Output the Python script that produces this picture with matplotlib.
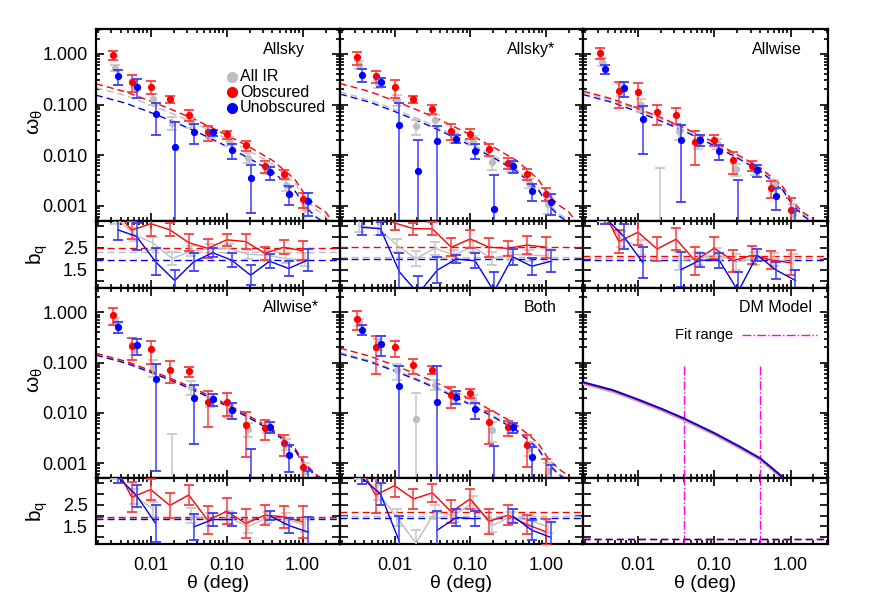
import numpy as np
import matplotlib
matplotlib.use('Agg')
import matplotlib.pyplot as plt
from matplotlib.ticker import LogLocator, NullFormatter, FixedLocator, FixedFormatter

plt.rcParams['font.family'] = ['Liberation Sans', 'DejaVu Sans']
plt.rcParams['mathtext.default'] = 'regular'

# ---------------- data ----------------
theta = [0.00316, 0.00562, 0.01, 0.0178, 0.0316, 0.0562, 0.1, 0.178, 0.316, 0.562, 1.0]
nan = np.nan

# DM model curve
dm_theta = [0.0019, 0.0047, 0.01, 0.021, 0.04, 0.1, 0.21, 0.4, 0.575, 0.79, 1.08, 1.5, 2.0, 3.1]
dm_omega = [0.041, 0.0284, 0.0186, 0.0119, 0.0078, 0.0040, 0.0022, 0.00126, 0.0008, 0.00053,
            0.00026, 0.00016, 0.00012, 0.00005]
dm_scale_gray, dm_scale_red, dm_scale_blue = 0.93, 0.97, 1.0
dm_bias = [0.92, 0.92, 0.92]           # gray, red, blue
fit_range = [0.04, 0.4]

# --- Allsky ---
allsky_om_red = [0.94, 0.284, 0.226, 0.127, 0.0616, 0.0284, 0.0256, 0.0155, 0.0060, 0.0042, 0.00134]
allsky_er_red = [0.18, 0.107, 0.065, 0.022, 0.015, 0.0095, 0.005, 0.0036, 0.0015, 0.0008, 0.00045]
allsky_om_blue = [0.362, 0.226, 0.066, 0.0144, 0.0289, 0.028, 0.0124, 0.00352, 0.0046, 0.00172, 0.00122]
allsky_er_blue = [0.117, 0.09, 0.041, 0.03, 0.012, 0.004, 0.004, 0.0028, 0.0013, 0.0007, 0.0006]
allsky_om_gray = [0.53, 0.24, 0.129, 0.0436, 0.045, 0.027, 0.019, 0.0089, 0.0052, 0.0026, 0.0009]
allsky_er_gray = [0.08, 0.06, 0.03, 0.012, 0.01, 0.005, 0.004, 0.002, 0.001, 0.0006, 0.0004]
allsky_bq_red = [4.3, 3.3, 3.6, 3.32, 2.73, 2.47, 2.86, 2.78, 2.24, 2.52, 2.36]
allsky_be_red = [0.4, 0.4, 0.56, 0.3, 0.39, 0.42, 0.27, 0.35, 0.31, 0.33, 0.44]
allsky_bq_blue = [3.32, 3.01, 1.85, 1.0, 1.85, 2.27, 1.93, 1.24, 1.88, 1.55, 1.93]
allsky_be_blue = [0.46, 0.6, 0.62, 0.5, 0.42, 0.2, 0.32, 0.46, 0.32, 0.35, 0.5]
allsky_bq_gray = [3.9, 3.1, 2.7, 2.0, 2.35, 2.45, 2.45, 2.2, 2.15, 2.0, 1.95]
allsky_be_gray = [0.3, 0.3, 0.3, 0.3, 0.25, 0.2, 0.2, 0.2, 0.2, 0.2, 0.3]
allsky_fit = [2.29, 2.5, 1.93]         # gray, red, blue

# --- Allsky* ---
allskys_om_red = [0.857, 0.36, 0.223, 0.129, 0.082, 0.0305, 0.0266, 0.0133, 0.0070, 0.0043, 0.00174]
allskys_er_red = [0.25, 0.093, 0.088, 0.02, 0.018, 0.011, 0.006, 0.0035, 0.0017, 0.001, 0.0005]
allskys_om_blue = [0.39, 0.28, 0.040, 0.0049, 0.0194, 0.0212, 0.0123, 0.00087, 0.006, 0.00193, 0.00117]
allskys_er_blue = [0.11, 0.06, 0.067, 0.0154, 0.019, 0.004, 0.004, 0.0031, 0.0015, 0.0007, 0.0005]
allskys_om_gray = [0.61, 0.26, 0.125, 0.037, 0.05, 0.022, 0.02, 0.0072, 0.0058, 0.0028, 0.0011]
allskys_er_gray = [0.1, 0.05, 0.03, 0.012, 0.012, 0.005, 0.004, 0.002, 0.0012, 0.0006, 0.0004]
allskys_bq_red = [4.5, 4.1, 3.63, 3.37, 3.36, 2.52, 2.9, 2.52, 2.47, 2.62, 2.52]
allskys_be_red = [0.3, 0.3, 0.3, 0.27, 0.3, 0.42, 0.42, 0.44, 0.35, 0.41, 0.49]
allskys_bq_blue = [3.43, 3.37, 1.39, 0.4, 1.47, 1.98, 1.9, 0.5, 2.08, 1.65, 1.88]
allskys_be_blue = [0.37, 0.3, 0.85, 0.8, 0.6, 0.2, 0.34, 0.9, 0.37, 0.39, 0.5]
allskys_bq_gray = [3.5, 3.4, 2.6, 2.0, 2.47, 2.16, 2.55, 2.0, 2.2, 2.16, 2.13]
allskys_be_gray = [0.3, 0.3, 0.3, 0.35, 0.3, 0.25, 0.25, 0.3, 0.25, 0.25, 0.3]
allskys_fit = [2.08, 2.52, 1.98]

# --- Allwise ---
allwise_om_red = [1.05, 0.182, 0.18, 0.070, 0.063, 0.0179, 0.0202, 0.0079, 0.0062, 0.00225, 0.00084]
allwise_er_red = [0.25, 0.095, 0.09, 0.03, 0.022, 0.0115, 0.005, 0.0037, 0.0013, 0.0008, 0.0006]
allwise_om_blue = [0.505, 0.213, 0.0526, nan, 0.0202, 0.020, 0.0119, 0.0003, 0.005, 0.00153, 0.0003]
allwise_er_blue = [0.1, 0.07, 0.042, nan, 0.019, 0.005, 0.004, 0.003, 0.0013, 0.0007, 0.0005]
allwise_om_gray = [0.7, 0.2, 0.1, 0.0003, 0.03, 0.017, 0.017, 0.0053, 0.005, 0.0027, 0.0007]
allwise_er_gray = [0.12, 0.05, 0.03, 0.0053, 0.01, 0.004, 0.004, 0.0015, 0.001, 0.0006, 0.0004]
allwise_bq_red = [4.5, 2.78, 3.21, 2.44, 2.89, 1.9, 2.47, 1.9, 2.16, 1.93, 1.81]
allwise_be_red = [0.4, 0.52, 0.6, 0.56, 0.49, 0.65, 0.5, 0.49, 0.42, 0.4, 0.58]
allwise_bq_blue = [3.9, 3.01, 1.81, nan, 1.5, 1.93, 1.93, 0.5, 2.16, 1.47, 1.0]
allwise_be_blue = [0.3, 0.58, 0.7, nan, 0.8, 0.32, 0.35, 0.9, 0.27, 0.38, 0.5]
allwise_bq_gray = [4.0, 2.9, 2.5, nan, 1.9, 2.0, 2.2, 1.85, 2.0, 1.95, 1.85]
allwise_be_gray = [0.3, 0.35, 0.35, nan, 0.4, 0.3, 0.3, 0.35, 0.3, 0.3, 0.35]
allwise_fit = [2.05, 2.12, 1.96]

# --- Allwise* ---
allwises_om_red = [0.9, 0.21, 0.183, 0.0725, 0.067, 0.0162, 0.0167, 0.0058, 0.0051, 0.0025, 0.00084]
allwises_er_red = [0.33, 0.1, 0.088, 0.033, 0.015, 0.011, 0.008, 0.0045, 0.0022, 0.0011, 0.0005]
allwises_om_blue = [0.505, 0.22, 0.0467, nan, 0.0194, 0.0187, 0.0114, 0.0002, 0.0053, 0.00147, 0.0003]
allwises_er_blue = [0.12, 0.08, 0.046, nan, 0.017, 0.005, 0.004, 0.0017, 0.0013, 0.0008, 0.0004]
allwises_om_gray = [0.68, 0.19, 0.082, 0.0002, 0.033, 0.017, 0.011, 0.0048, 0.005, 0.0024, 0.0007]
allwises_er_gray = [0.1, 0.05, 0.03, 0.0036, 0.01, 0.004, 0.003, 0.0015, 0.001, 0.0006, 0.0003]
allwises_bq_red = [4.5, 2.85, 3.2, 2.47, 2.95, 1.79, 2.2, 1.64, 2.02, 1.95, 1.71]
allwises_be_red = [0.4, 0.7, 0.5, 0.57, 0.47, 0.64, 0.6, 0.67, 0.47, 0.5, 0.72]
allwises_bq_blue = [3.8, 2.92, 1.64, nan, 1.48, 1.82, 1.82, nan, 2.0, 1.55, 1.25]
allwises_be_blue = [0.3, 0.5, 0.85, nan, 0.6, 0.3, 0.3, nan, 0.2, 0.35, 0.7]
allwises_bq_gray = [4.0, 2.9, 2.3, nan, 2.0, 1.8, 1.9, 1.5, 1.9, 1.85, 1.55]
allwises_be_gray = [0.3, 0.35, 0.35, nan, 0.35, 0.3, 0.3, 0.3, 0.25, 0.25, 0.3]
allwises_fit = [1.88, 1.93, 1.85]

# --- Both ---
both_om_red = [0.74, 0.2, 0.2, 0.088, 0.0725, 0.0225, 0.025, 0.0067, 0.0052, 0.00225, 0.0004]
both_er_red = [0.3, 0.14, 0.07, 0.03, 0.014, 0.01, 0.005, 0.0043, 0.0017, 0.0014, 0.0008]
both_om_blue = [0.45, 0.237, 0.034, nan, 0.0162, 0.021, 0.0117, 0.0002, 0.0052, 0.0013, 0.0003]
both_er_blue = [0.1, 0.1, 0.05, nan, 0.068, 0.006, 0.004, 0.002, 0.0012, 0.0008, 0.0006]
both_om_gray = [0.63, 0.24, 0.07, 0.0075, 0.036, 0.021, 0.019, 0.0046, 0.005, 0.002, 0.0007]
both_er_gray = [0.1, 0.06, 0.025, 0.017, 0.008, 0.005, 0.004, 0.002, 0.001, 0.0006, 0.0003]
both_bq_red = [4.5, 2.95, 3.38, 2.77, 3.05, 2.17, 2.77, 1.74, 2.02, 1.59, 1.26]
both_be_red = [0.4, 0.83, 0.5, 0.48, 0.42, 0.53, 0.47, 0.58, 0.45, 0.43, 0.6]
both_bq_blue = [3.75, 3.0, 0.8, nan, 1.33, 1.91, 1.86, nan, 1.98, 1.33, 1.0]
both_be_blue = [0.3, 0.5, 1.2, nan, 0.9, 0.38, 0.34, nan, 0.33, 0.45, 0.7]
both_bq_gray = [4.0, 3.07, 1.9, 0.73, 2.17, 2.0, 2.6, 1.53, 1.94, 1.79, 1.48]
both_be_gray = [0.3, 0.35, 0.4, 0.6, 0.3, 0.3, 0.3, 0.3, 0.25, 0.25, 0.3]
both_fit = [1.97, 2.17, 1.91]

panel_names = ['Allsky', 'Allsky*', 'Allwise', 'Allwise*', 'Both', 'DM Model']
legend_labels = ['All IR', 'Obscured', 'Unobscured']
x_ticklabels = ['0.01', '0.10', '1.00']
om_ticklabels = ['0.001', '0.010', '0.100', '1.000']
bq_ticklabels = ['', '1.5', '', '2.5', '', '']

# ---------------- style ----------------
GRAY, RED, BLUE = '#BEBEBE', '#FF0000', '#0000FF'
EGRAY, ERED, EBLUE = '#C8C8C8', '#FF3C3C', '#3C3CFF'
MAG = '#FF00FF'
colors = [GRAY, RED, BLUE]
ecolors = [EGRAY, ERED, EBLUE]
xshift = [1.08, 1.0, 1.16]

W, H = 872, 599
fig = plt.figure(figsize=(W / 100, H / 100), dpi=100)

def rect(x0, y0, x1, y1):
    return [x0 / W, 1 - y1 / H, (x1 - x0) / W, (y1 - y0) / H]

col_x = [(96, 340), (340, 583), (583, 828)]
row_y = [((29, 221), (221, 287.5)), ((287.5, 478.3), (478.3, 544.3))]

XLIM = (0.0019, 3.1)
OMLIM = (0.0005, 3.1)
BQLIM = (0.68, 3.72)
DASH = (0, (5, 3))

def style(ax, kind, show_x, show_y):
    ax.set_xscale('log')
    ax.set_xlim(*XLIM)
    ax.xaxis.set_major_locator(FixedLocator([0.01, 0.1, 1.0]))
    ax.xaxis.set_minor_locator(LogLocator(base=10, subs=np.arange(2, 10), numticks=30))
    ax.xaxis.set_minor_formatter(NullFormatter())
    if show_x:
        ax.xaxis.set_major_formatter(FixedFormatter(x_ticklabels))
    else:
        ax.xaxis.set_major_formatter(NullFormatter())
    if kind == 'om':
        ax.set_yscale('log')
        ax.set_ylim(*OMLIM)
        ax.yaxis.set_major_locator(FixedLocator([0.001, 0.01, 0.1, 1.0]))
        ax.yaxis.set_minor_locator(LogLocator(base=10, subs=np.arange(2, 10), numticks=30))
        ax.yaxis.set_minor_formatter(NullFormatter())
        ax.yaxis.set_major_formatter(FixedFormatter(om_ticklabels) if show_y else NullFormatter())
    else:
        ax.set_ylim(*BQLIM)
        ax.yaxis.set_major_locator(FixedLocator([1.0, 1.5, 2.0, 2.5, 3.0, 3.5]))
        ax.yaxis.set_major_formatter(FixedFormatter(bq_ticklabels) if show_y else NullFormatter())
    ax.tick_params(which='both', direction='in', top=True, right=True, width=1.2, labelsize=13)
    ax.tick_params(which='major', length=6, pad=6)
    ax.tick_params(which='minor', length=3)
    ax.tick_params(axis='x', which='major', pad=9)
    for s in ax.spines.values():
        s.set_linewidth(1.6)

data_panels = [
    ('allsky', allsky_om_gray, allsky_er_gray, allsky_om_red, allsky_er_red, allsky_om_blue, allsky_er_blue,
     allsky_bq_gray, allsky_be_gray, allsky_bq_red, allsky_be_red, allsky_bq_blue, allsky_be_blue, allsky_fit),
    ('allskys', allskys_om_gray, allskys_er_gray, allskys_om_red, allskys_er_red, allskys_om_blue, allskys_er_blue,
     allskys_bq_gray, allskys_be_gray, allskys_bq_red, allskys_be_red, allskys_bq_blue, allskys_be_blue, allskys_fit),
    ('allwise', allwise_om_gray, allwise_er_gray, allwise_om_red, allwise_er_red, allwise_om_blue, allwise_er_blue,
     allwise_bq_gray, allwise_be_gray, allwise_bq_red, allwise_be_red, allwise_bq_blue, allwise_be_blue, allwise_fit),
    ('allwises', allwises_om_gray, allwises_er_gray, allwises_om_red, allwises_er_red, allwises_om_blue, allwises_er_blue,
     allwises_bq_gray, allwises_be_gray, allwises_bq_red, allwises_be_red, allwises_bq_blue, allwises_be_blue, allwises_fit),
    ('both', both_om_gray, both_er_gray, both_om_red, both_er_red, both_om_blue, both_er_blue,
     both_bq_gray, both_be_gray, both_bq_red, both_be_red, both_bq_blue, both_be_blue, both_fit),
]

title_x = [0.685, 0.689, 0.69, 0.685, 0.758, 0.635]

th = np.array(theta)
dmt = np.array(dm_theta)
dmo = np.array(dm_omega)

for idx in range(6):
    r, c = divmod(idx, 3)
    (x0, x1) = col_x[c]
    (oy, by) = row_y[r]
    ax_om = fig.add_axes(rect(x0, oy[0], x1, oy[1]))
    ax_bq = fig.add_axes(rect(x0, by[0], x1, by[1]))
    style(ax_om, 'om', False, c == 0)
    style(ax_bq, 'bq', r == 1, c == 0)

    ax_om.text(title_x[idx], 0.895, panel_names[idx], transform=ax_om.transAxes,
               ha='left', va='center', fontsize=11.5)

    if idx < 5:
        d = data_panels[idx]
        oms = [(d[1], d[2]), (d[3], d[4]), (d[5], d[6])]
        bqs = [(d[7], d[8]), (d[9], d[10]), (d[11], d[12])]
        fit = d[13]
        for k in range(3):
            ax_om.plot(dmt, dmo * fit[k] ** 2, ls=DASH, color=colors[k], lw=1.0, zorder=2)
            ax_bq.axhline(fit[k], ls=DASH, color=colors[k], lw=1.0, zorder=2)
        for k in range(3):
            y, e = oms[k]
            ax_om.errorbar(th * xshift[k], y, yerr=e, fmt='none', ecolor=ecolors[k],
                           elinewidth=1.1, capsize=3.5, capthick=1.3, zorder=3 + k)
            ax_om.plot(th * xshift[k], y, 'o', color=colors[k], ms=4.2, zorder=3.5 + k)
            b, be = bqs[k]
            ax_bq.plot(th * xshift[k], b, '-', color=colors[k], lw=1.0, zorder=3 + k)
            ax_bq.errorbar(th * xshift[k], b, yerr=be, fmt='none', ecolor=ecolors[k],
                           elinewidth=1.1, capsize=3.5, capthick=1.3, zorder=3 + k)
        if idx == 0:
            ys = [0.752, 0.671, 0.589]
            for k in range(3):
                ax_om.plot([0.559], [ys[k]], 'o', color=colors[k], ms=7,
                           transform=ax_om.transAxes, clip_on=False)
                ax_om.text(0.59, ys[k], legend_labels[k], transform=ax_om.transAxes,
                           ha='left', va='center', fontsize=11.5)
    else:
        scales = [dm_scale_gray, dm_scale_red, dm_scale_blue]
        lws = [2.2, 1.2, 1.2]
        for k in range(3):
            ax_om.plot(dmt, dmo * scales[k], '-', color=colors[k], lw=lws[k], zorder=3 + k)
            ax_bq.axhline(dm_bias[k], ls=DASH, color=colors[k], lw=1.0, zorder=3 + k)
        for fr in fit_range:
            ax_om.vlines(fr, OMLIM[0], 0.088, colors=MAG, linestyles='dashdot', lw=1.0)
            ax_bq.axvline(fr, color=MAG, ls='dashdot', lw=1.0)
        ax_om.plot([0.648, 0.955], [0.752, 0.752], color=MAG, ls='dashdot', lw=1.0,
                   transform=ax_om.transAxes)
        ax_om.text(0.376, 0.752, 'Fit range', transform=ax_om.transAxes,
                   ha='left', va='center', fontsize=10.5)

    if c == 0:
        fig.text(35 / W, 1 - ((oy[0] + oy[1]) / 2 - 3) / H, r'$\omega_\theta$', rotation=90,
                 ha='center', va='center', fontsize=15)
        fig.text(37 / W, 1 - ((by[0] + by[1]) / 2) / H, r'$b_q$', rotation=90,
                 ha='center', va='center', fontsize=15)
    if r == 1:
        fig.text(((x0 + x1) / 2) / W, 1 - 583 / H, 'θ (deg)', ha='center', va='center', fontsize=14)

fig.savefig('out.png', dpi=100)
